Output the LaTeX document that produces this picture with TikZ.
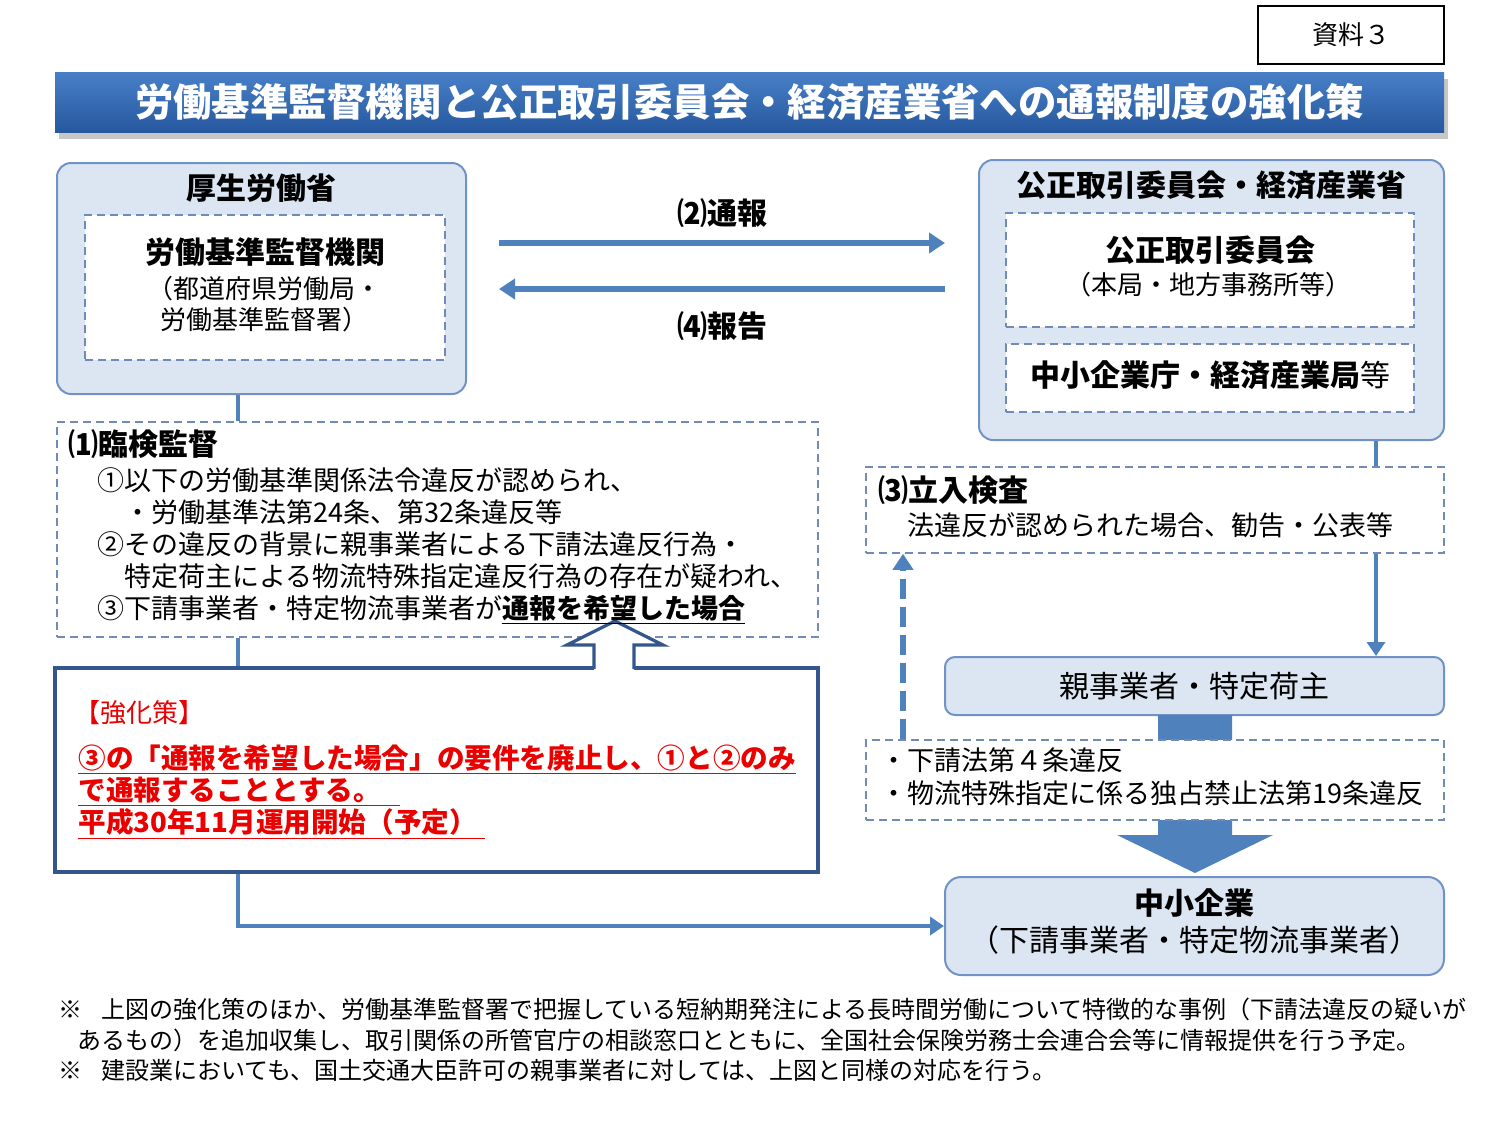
\documentclass[tikz,border=0pt]{standalone}
\usepackage{fontspec}
\setmainfont{Noto Sans CJK JP}
\usetikzlibrary{arrows.meta,fit,positioning}
\definecolor{boxfill}{RGB}{220,230,242}
\definecolor{boxline}{RGB}{112,146,198}
\definecolor{flowblue}{RGB}{79,129,189}
\definecolor{dashline}{RGB}{112,140,182}
\definecolor{navy}{RGB}{52,86,140}
\definecolor{barTop}{RGB}{72,128,200}
\definecolor{barBot}{RGB}{38,88,158}
\definecolor{alert}{RGB}{235,0,0}
\newcommand{\fsz}[2]{\fontsize{#1}{#2}\selectfont}

\begin{document}
\begin{tikzpicture}[x=0.5pt,y=-0.5pt,
    outer/.style={draw=boxline,fill=boxfill,line width=1pt,rounded corners=7pt,inner sep=0pt},
    dbox/.style={draw=dashline,fill=white,line width=0.8pt,dash pattern=on 4pt off 2.5pt,inner sep=0pt},
    link/.style={draw=flowblue,line width=2pt},
    flow/.style={link,-{Triangle[length=7pt,width=9pt]}},
    txt/.style={inner sep=0pt,align=left,anchor=north west}]
\useasboundingbox (0,0) rectangle (1500,1125);
\coordinate (xl) at (238,0);
\coordinate (xr) at (1376,0);
\coordinate (xd) at (903,0);
\coordinate (ytwo) at (0,243);
\coordinate (yfour) at (0,289);

% title
\node[fit={(1258,6) (1444,64)},draw,line width=0.8pt,inner sep=0pt] (shiryo) {};
\node[font=\fsz{13}{15}] at (shiryo.center) {資料３};
\fill[black!22] (59,79) rectangle (1448,139);
\node[fit={(55,72) (1444,132)},inner sep=0pt,top color=barTop,bottom color=barBot] (title) {};
\node[text=white,font=\fsz{19.2}{22}\bfseries] at (title.center) {労働基準監督機関と公正取引委員会・経済産業省への通報制度の強化策};

% boxes
\node[outer,fit={(57,163) (466,394)}] (mhlw) {};
\node[dbox,fit={(85,215) (445,360)}] (kantoku) {};
\node[outer,fit={(979,160) (1444,440)}] (meti) {};
\node[dbox,fit={(1006,213) (1414,327)}] (jftc) {};
\node[dbox,fit={(1006,344) (1414,412)}] (chushocho) {};
\node[dbox,fit={(57,422) (818,637)}] (rinken) {};
\node[fit={(55,668) (818,872)},draw=navy,line width=1.6pt,fill=white,inner sep=0pt] (kyoka) {};
\node[dbox,fit={(866,467) (1444,553)}] (tachiiri) {};
\node[outer,fit={(945,657) (1444,715)},rounded corners=5pt] (oya) {};
\fill[flowblue] (1158,715) -- (1232,715) -- (1232,835) -- (1273,835) -- (1195,873)
    -- (1117,835) -- (1158,835) -- cycle;
\node[dbox,fit={(866,740) (1444,820)}] (ihan) {};
\node[outer,fit={(945,877) (1444,975)},rounded corners=8pt] (chusho) {};

% hollow arrow
\fill[white] (594,670) -- (594,645) -- (567,645) -- (615,621) -- (663,645) -- (634,645) -- (634,670) -- cycle;
\draw[navy,line width=1.6pt,line join=miter] (594,669) -- (594,645) -- (567,645) -- (615,621)
    -- (663,645) -- (634,645) -- (634,669);

% connectors
\draw[flow,line width=2.6pt,-{Triangle[length=8pt,width=10pt]},shorten <=16pt,shorten >=16.5pt]
    (mhlw.east |- ytwo) -- (meti.west |- ytwo);
\draw[flow,line width=2.6pt,-{Triangle[length=8pt,width=10pt]},shorten <=16.5pt,shorten >=16pt]
    (meti.west |- yfour) -- (mhlw.east |- yfour);
\draw[link] (mhlw.south -| xl) -- (rinken.north -| xl);
\draw[link] (rinken.south -| xl) -- (kyoka.north -| xl);
\draw[flow] (kyoka.south -| xl) |- (chusho.west);
\draw[link] (meti.south -| xr) -- (tachiiri.north -| xr);
\draw[flow] (tachiiri.south -| xr) -- (oya.north -| xr);
\draw[flow,line width=3pt,dash pattern=on 10pt off 4pt,-{Triangle[length=8pt,width=10pt]}]
    (ihan.north -| xd) -- (tachiiri.south -| xd);

% labels
\node[font=\fsz{15}{18}\bfseries] at (722,213) {⑵通報};
\node[font=\fsz{15}{18}\bfseries] at (722,326) {⑷報告};
\node[font=\fsz{15}{18}\bfseries] at (261,188) {厚生労働省};
\node[font=\fsz{15}{18}\bfseries] at (265,252) {労働基準監督機関};
\node[txt,font=\fsz{13}{15.5}] at (147,276) {（都道府県労働局・\\\hspace*{0.5em}労働基準監督署）};
\node[font=\fsz{15}{18}\bfseries] at (1211,185) {公正取引委員会・経済産業省};
\node[font=\fsz{15}{18}\bfseries] at (1210,250) {公正取引委員会};
\node[font=\fsz{13}{15}] at (1208,285) {（本局・地方事務所等）};
\node[font=\fsz{15}{18}] at (1210,375) {\bfseries 中小企業庁・経済産業局\mdseries 等};

\node[txt,font=\fsz{15}{18}\bfseries] at (68,429) {⑴臨検監督};
\node[txt,font=\fsz{13.5}{16}] at (97,467) {①以下の労働基準関係法令違反が認められ、\\
  \hspace*{1em}・労働基準法第24条、第32条違反等\\
  ②その違反の背景に親事業者による下請法違反行為・\\
  \hspace*{1em}特定荷主による物流特殊指定違反行為の存在が疑われ、\\
  ③下請事業者・特定物流事業者が\underline{\bfseries 通報を希望した場合}};

\node[txt,font=\fsz{13}{15},text=alert] at (74,700) {【強化策】};
\node[txt,font=\fsz{13.8}{16}\bfseries,text=alert] at (78,744) {%
  \underline{③の「通報を希望した場合」の要件を廃止し、①と②のみ}\\
  \underline{で通報することとする。\hspace*{0.7em}}\\
  \underline{平成30年11月運用開始（予定）\hspace*{0.3em}}};

\node[txt,font=\fsz{15}{18}\bfseries] at (878,475) {⑶立入検査};
\node[txt,font=\fsz{13.5}{16}] at (907,512) {法違反が認められた場合、勧告・公表等};
\node[font=\fsz{15}{18}] at (oya.center) {親事業者・特定荷主};
\node[txt,font=\fsz{13.5}{16.5}] at (880,747) {・下請法第４条違反\\・物流特殊指定に係る独占禁止法第19条違反};
\node[font=\fsz{15}{18}\bfseries] at (1194,903) {中小企業};
\node[font=\fsz{15}{18}] at (1194,940) {（下請事業者・特定物流事業者）};

% notes
\node[txt,font=\fsz{12}{15.25}] (notes) at (58,998) {%
  ※\hspace*{0.8em}上図の強化策のほか、労働基準監督署で把握している短納期発注による長時間労働について特徴的な事例（下請法違反の疑いが\\
  \hspace*{0.8em}あるもの）を追加収集し、取引関係の所管官庁の相談窓口とともに、全国社会保険労務士会連合会等に情報提供を行う予定。\\
  ※\hspace*{0.8em}建設業においても、国土交通大臣許可の親事業者に対しては、上図と同様の対応を行う。};
\end{tikzpicture}
\end{document}
